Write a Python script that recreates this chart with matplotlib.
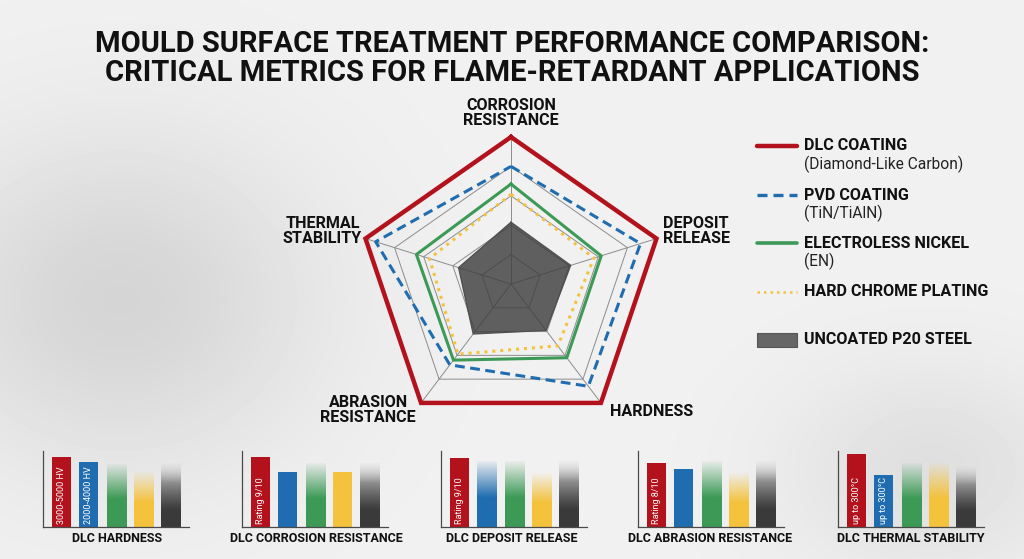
import numpy as np
import matplotlib
matplotlib.use("Agg")
import matplotlib.pyplot as plt
from matplotlib.lines import Line2D
from matplotlib.patches import Rectangle
from matplotlib.colors import to_rgb

plt.rcParams['font.family'] = ['Roboto', 'DejaVu Sans']

# ---------------- data ----------------
axes_labels = ["CORROSION\nRESISTANCE", "DEPOSIT\nRELEASE", "HARDNESS",
               "ABRASION\nRESISTANCE", "THERMAL\nSTABILITY"]
series_names = ["DLC COATING", "PVD COATING", "ELECTROLESS NICKEL",
                "HARD CHROME PLATING", "UNCOATED P20 STEEL"]
series_sub = ["(Diamond-Like Carbon)", "(TiN/TiAlN)", "(EN)", "", ""]
# order: corrosion, deposit, hardness, abrasion, thermal (0-10 scale)
dlc = [10, 10, 10, 10, 10]
pvd = [8.0, 8.9, 8.6, 6.8, 9.3]
en = [6.8, 6.2, 6.2, 6.4, 6.5]
chrome = [6.1, 5.7, 5.2, 5.9, 5.6]
uncoated = [4.2, 4.1, 3.9, 4.2, 3.6]
grid_levels = [2, 4, 6, 8, 10]

panel_titles = ["DLC HARDNESS", "DLC CORROSION RESISTANCE", "DLC DEPOSIT RELEASE",
                "DLC ABRASION RESISTANCE", "DLC THERMAL STABILITY"]
panel_values = [
    [9.2, 8.6, 8.2, 7.2, 8.4],
    [9.2, 7.2, 8.4, 7.2, 8.4],
    [9.1, 8.6, 8.6, 7.1, 8.6],
    [8.4, 7.6, 8.6, 7.1, 8.6],
    [9.6, 6.8, 8.3, 8.3, 8.0],
]
panel_bar_text = [
    ["3000-5000 HV", "2000-4000 HV", "", "", ""],
    ["Rating 9/10", "", "", "", ""],
    ["Rating 9/10", "", "", "", ""],
    ["Rating 8/10", "", "", "", ""],
    ["up to 300°C", "up to 300°C", "", "", ""],
]

RED = "#b3121c"
BLUE = "#1f6db0"
GREEN = "#3c9a56"
YELLOW = "#f4c23c"
GRAY = "#575757"
colors = [RED, BLUE, GREEN, YELLOW, GRAY]
# fade flags per panel / bar (0 none, 1 top fade, 2 dark gradient)
fade = [
    [0, 0, 1, 1, 2],
    [0, 0, 1, 0, 2],
    [0, 1, 1, 1, 2],
    [0, 0, 1, 1, 2],
    [0, 0, 1, 1, 2],
]

W, H = 1024, 559
fig = plt.figure(figsize=(W / 100, H / 100), dpi=100)

# ---------------- background ----------------
bg = fig.add_axes([0, 0, 1, 1], zorder=-5)
yy, xx = np.mgrid[0:H, 0:W]
val = 0.945 - 0.11 * np.exp(-(((xx - 120) / 200.0) ** 2 + ((yy - 300) / 170.0) ** 2))
val -= 0.07 * np.exp(-(((xx - 930) / 150.0) ** 2 + ((yy - 470) / 110.0) ** 2))
bg.imshow(val, cmap="gray", vmin=0, vmax=1, extent=(0, W, H, 0), aspect="auto")
bg.set_xlim(0, W)
bg.set_ylim(H, 0)
bg.axis("off")

# ---------------- radar ----------------
cx, cy = 511, 284
sx, sy = 153, 147
rax = fig.add_axes([(cx - 1.2 * sx) / W, (H - cy - 1.2 * sy) / H, 2.4 * sx / W, 2.4 * sy / H])
rax.set_xlim(-1.2, 1.2)
rax.set_ylim(-1.2, 1.2)
rax.axis("off")
rax.patch.set_alpha(0)

n = len(axes_labels)
theta = np.arange(n) * 2 * np.pi / n


def xy(vals):
    r = np.asarray(vals, float) / 10.0
    x = r * np.sin(theta)
    y = r * np.cos(theta)
    return np.append(x, x[0]), np.append(y, y[0])


for lv in grid_levels[:-1]:
    gx, gy = xy([lv] * n)
    rax.plot(gx, gy, color="#8c8c8c", lw=0.7, zorder=1)
for t in theta:
    rax.plot([0, np.sin(t)], [0, np.cos(t)], color="#8c8c8c", lw=0.7, zorder=1)

ux, uy = xy(uncoated)
rax.fill(ux, uy, color="#3f3f3f", alpha=0.82, zorder=2, lw=0)
rax.plot(ux, uy, color="#505050", lw=1.0, zorder=2)

cxs, cys = xy(chrome)
rax.plot(cxs, cys, color=YELLOW, lw=2.2, ls=(0, (1, 1.6)), zorder=3)
ex, ey = xy(en)
rax.plot(ex, ey, color=GREEN, lw=2.2, zorder=4)
px, py = xy(pvd)
rax.plot(px, py, color=BLUE, lw=2.2, ls=(0, (3.2, 1.8)), zorder=5)
dx, dy = xy(dlc)
rax.plot(dx, dy, color=RED, lw=3.2, zorder=6, solid_joinstyle="miter")

# ---------------- overlay (text, legend) ----------------
ov = fig.add_axes([0, 0, 1, 1], zorder=10)
ov.set_xlim(0, W)
ov.set_ylim(H, 0)
ov.axis("off")
ov.patch.set_alpha(0)

ov.text(512, 44, "MOULD SURFACE TREATMENT PERFORMANCE COMPARISON:", ha="center", va="center",
        fontsize=21, fontweight="bold", color="#111111")
ov.text(512, 73, "CRITICAL METRICS FOR FLAME-RETARDANT APPLICATIONS", ha="center", va="center",
        fontsize=21, fontweight="bold", color="#111111")

lab_kw = dict(fontsize=11.6, fontweight="bold", color="#111111", linespacing=1.05)
ov.text(511, 113, axes_labels[0], ha="center", va="center", multialignment="center", **lab_kw)
ov.text(663, 231, axes_labels[1], ha="left", va="center", multialignment="left", **lab_kw)
ov.text(610, 411, axes_labels[2], ha="left", va="center", **lab_kw)
ov.text(416, 410, axes_labels[3], ha="right", va="center", multialignment="center", **lab_kw)
ov.text(362, 231, axes_labels[4], ha="right", va="center", multialignment="center", **lab_kw)

# legend
leg_x0, leg_x1, tx = 757, 797, 804
rows = [146, 195, 243, 292, 340]
ov.add_line(Line2D([leg_x0, leg_x1], [rows[0]] * 2, color=RED, lw=3.2, solid_capstyle="round"))
ov.add_line(Line2D([leg_x0, leg_x1], [rows[1]] * 2, color=BLUE, lw=2.4, ls=(0, (3.0, 1.8))))
ov.add_line(Line2D([leg_x0, leg_x1], [rows[2]] * 2, color=GREEN, lw=2.6, solid_capstyle="round"))
ov.add_line(Line2D([leg_x0, leg_x1], [rows[3]] * 2, color=YELLOW, lw=1.8, ls=(0, (1, 1.6))))
ov.add_patch(Rectangle((leg_x0, rows[4] - 7), leg_x1 - leg_x0, 14, facecolor="#666666",
                       edgecolor="#555555", lw=0.8))
for i, nm in enumerate(series_names):
    ov.text(tx, rows[i], nm, ha="left", va="center", fontsize=11.6, fontweight="bold",
            color="#111111")
    if series_sub[i]:
        ov.text(tx, rows[i] + 18, series_sub[i], ha="left", va="center", fontsize=11.2,
                color="#222222")

# ---------------- bottom bar panels ----------------
spine_x = [43, 242, 441, 638, 838]
label_x = [117, 316, 512, 710, 911]
top_px, bot_px = 451, 527
unit = 27.3
left_off = 18.5
x_left = -left_off / unit
x_right = (146 - left_off) / unit

for p in range(5):
    w_px = (x_right - x_left) * unit
    ax = fig.add_axes([spine_x[p] / W, (H - bot_px) / H, w_px / W, (bot_px - top_px) / H])
    ax.patch.set_alpha(0)
    for s in ["top", "right"]:
        ax.spines[s].set_visible(False)
    for s in ["left", "bottom"]:
        ax.spines[s].set_color("#4a4a4a")
        ax.spines[s].set_linewidth(0.9)
    ax.set_xticks([])
    ax.set_yticks([])
    xs = np.arange(5)
    bars = ax.bar(xs, panel_values[p], width=0.7, color=colors, zorder=2)
    for i, b in enumerate(bars):
        f = fade[p][i]
        if f == 0:
            continue
        b.set_facecolor("none")
        h = b.get_height()
        x0 = b.get_x()
        nrow = 60
        t = np.linspace(0, 1, nrow)  # 0 bottom -> 1 top
        img = np.zeros((nrow, 1, 4))
        if f == 1:
            rgb = np.array(to_rgb(colors[i]))
            img[:, 0, :3] = rgb
            img[:, 0, 3] = np.clip(1.0 - (t - 0.45) / 0.55 * 0.95, 0.05, 1.0)
        else:
            dark = np.array(to_rgb("#3a3a3a"))
            light = np.array(to_rgb("#d8d8d8"))
            k = (np.clip((t - 0.25) / 0.75, 0, 1) ** 1.2)[:, None]
            img[:, 0, :3] = dark + (light - dark) * k
            img[:, 0, 3] = np.clip(1.0 - (t - 0.7) / 0.3 * 0.8, 0.2, 1.0)
        ax.imshow(img[::-1], extent=(x0, x0 + b.get_width(), 0, h), aspect="auto",
                  interpolation="bilinear", zorder=2)
    ax.set_xlim(x_left, x_right)
    ax.set_ylim(0, 10)
    for i, txt in enumerate(panel_bar_text[p]):
        if txt:
            ax.text(xs[i], 0.35, txt, rotation=90, ha="center", va="bottom", fontsize=6.5,
                    color="white", zorder=3)
    ov.text(label_x[p], 538, panel_titles[p], ha="center", va="center", fontsize=9,
            fontweight="bold", color="#111111")

fig.savefig("out.png", dpi=100)
